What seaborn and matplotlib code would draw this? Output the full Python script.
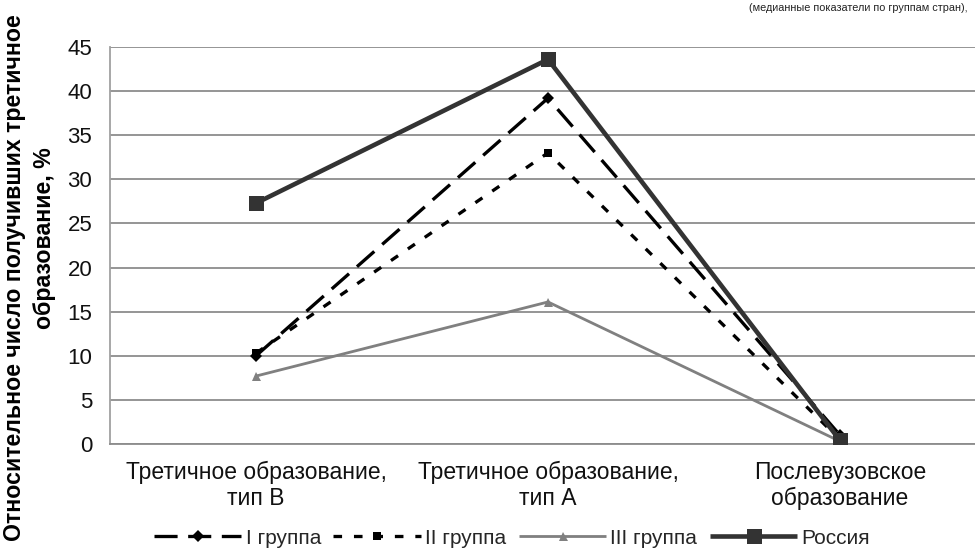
import matplotlib
matplotlib.use("Agg")
import matplotlib.pyplot as plt
import seaborn as sns
import pandas as pd

categories = ["Третичное образование,\nтип В", "Третичное образование,\nтип А", "Послевузовское\nобразование"]
group1 = [10.0, 39.2, 1.0]
group2 = [10.3, 33.0, 0.5]
group3 = [7.7, 16.1, 0.3]
russia = [27.3, 43.6, 0.4]
series_names = ["I группа", "II группа", "III группа", "Россия"]
yticks = [0, 5, 10, 15, 20, 25, 30, 35, 40, 45]
title_text = "(медианные показатели по группам стран),"
ylabel1 = "Относительное число получивших третичное"
ylabel2 = "образование, %"

sns.set_style("white")
plt.rcParams['font.family'] = ['Liberation Sans', 'DejaVu Sans']

W, H = 975, 553
fig = plt.figure(figsize=(W / 100, H / 100), dpi=100)
ax_l, ax_r, ax_t, ax_b = 110, 986, 47, 444
ax = fig.add_axes([ax_l / W, 1 - ax_b / H, (ax_r - ax_l) / W, (ax_b - ax_t) / H])

pos = list(range(len(categories)))
rows = []
for name, vals in zip(series_names, [group1, group2, group3, russia]):
    for p, v in zip(pos, vals):
        rows.append({"x": p, "y": v, "series": name})
df = pd.DataFrame(rows)

px = 0.72
styles = {
    "I группа": dict(color="black", lw=3.3 * px, marker="D", ms=8 * px, dashes=(7, 3.2)),
    "II группа": dict(color="black", lw=3.3 * px, marker="s", ms=8 * px, dashes=(2.6, 3.6)),
    "III группа": dict(color="#808080", lw=2.8 * px, marker="^", ms=9 * px, dashes=None),
    "Россия": dict(color="#333333", lw=4.6 * px, marker="s", ms=15 * px, dashes=None),
}

for name in series_names:
    st = styles[name]
    sub = df[df["series"] == name]
    sns.lineplot(data=sub, x="x", y="y", ax=ax, color=st["color"], linewidth=st["lw"],
                 marker=st["marker"], markersize=st["ms"], markeredgewidth=0,
                 label=name, legend=False, zorder=3)
    line = ax.lines[-1]
    if st["dashes"]:
        line.set_dashes(st["dashes"])
    line.set_solid_capstyle("butt")

ax.set_xlim(-0.5, 2.5)
ax.set_ylim(0, 45)
ax.set_yticks(yticks)
ax.set_xticks(pos)
ax.set_xticklabels(categories, fontsize=16.5, linespacing=1.17)
ax.tick_params(axis="x", length=0, pad=12, labelcolor="#111111")
ax.tick_params(axis="y", length=4.3, width=1.2, color="#8c8c8c", labelsize=16, pad=8.5, labelcolor="#111111")
ax.yaxis.grid(True, color="#8c8c8c", linewidth=1.3)
ax.set_axisbelow(True)
for s in ["top", "right"]:
    ax.spines[s].set_visible(False)
ax.spines["left"].set_color("#a0a0a0")
ax.spines["left"].set_linewidth(1.3)
ax.spines["bottom"].set_color("#8c8c8c")
ax.spines["bottom"].set_linewidth(1.3)
ax.set_xlabel("")
ax.set_ylabel("")

handles = ax.lines[:4]
fig.legend(handles, series_names, loc="center", bbox_to_anchor=(512 / W, 1 - 538 / H),
           ncol=4, frameon=False, fontsize=15, handlelength=4.2, handletextpad=0.2,
           columnspacing=0.6)

fig.text(968 / W, 1 - 11 / H, title_text, ha="right", va="baseline", fontsize=7.8,
         color="#222222")

fig.text(15 / W, 1 - 278 / H, ylabel1, rotation=90, ha="center", va="center",
         fontsize=16.7, fontweight="bold", color="black")
fig.text(45 / W, 1 - 147 / H, ylabel2, rotation=90, ha="center", va="top",
         fontsize=16.7, fontweight="bold", color="black")

fig.savefig("out.png", dpi=100)
